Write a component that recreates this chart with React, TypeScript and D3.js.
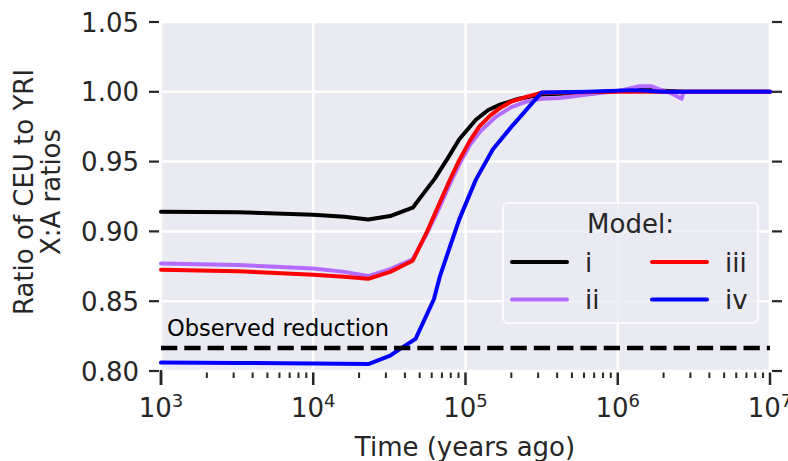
import React from "react";
import * as d3 from "d3";

// time in years ago, ratio of CEU to YRI X:A ratios
const timeI = [1000, 3200, 10000, 16000, 23000, 32000, 45000, 52000, 63000, 76000, 91000, 117000, 141000, 170000, 224000, 316000, 631000, 1000000, 1410000, 2000000, 2700000, 10000000];
const ratioI = [0.914, 0.9137, 0.912, 0.9105, 0.9085, 0.911, 0.917, 0.926, 0.938, 0.952, 0.966, 0.98, 0.987, 0.991, 0.995, 0.998, 0.9995, 1.0005, 1.002, 1.0008, 1.0, 1.0];

const timeII = [1000, 3200, 10000, 16000, 23000, 32000, 45000, 56000, 68000, 79000, 91000, 107000, 126000, 158000, 200000, 251000, 316000, 417000, 631000, 1000000, 1380000, 1660000, 1950000, 2240000, 2630000, 2700000, 10000000];
const ratioII = [0.877, 0.876, 0.8735, 0.871, 0.868, 0.873, 0.88, 0.899, 0.918, 0.934, 0.948, 0.962, 0.972, 0.982, 0.989, 0.993, 0.995, 0.9955, 0.998, 1.0005, 1.004, 1.004, 1.001, 0.999, 0.995, 1.0, 1.0];

const timeIII = [1000, 3200, 10000, 16000, 23000, 32000, 45000, 56000, 68000, 79000, 91000, 107000, 123000, 145000, 170000, 200000, 251000, 316000, 1000000, 10000000];
const ratioIII = [0.8725, 0.8715, 0.869, 0.8675, 0.866, 0.871, 0.879, 0.9, 0.921, 0.937, 0.951, 0.965, 0.975, 0.983, 0.9886, 0.993, 0.9964, 0.9993, 1.0, 1.0];

const timeIV = [1000, 3200, 10000, 23000, 32000, 37000, 47000, 62000, 68000, 79000, 91000, 117000, 151000, 204000, 316000, 631000, 1260000, 2000000, 10000000];
const ratioIV = [0.806, 0.8058, 0.8053, 0.805, 0.811, 0.8157, 0.823, 0.8514, 0.868, 0.889, 0.9086, 0.9371, 0.9586, 0.976, 0.9995, 1.0, 1.0012, 1.0, 1.0];

const modelNames = ["i", "ii", "iii", "iv"];
const modelColors = ["#000000", "#b36cff", "#ff0000", "#0000ff"];

const observedReduction = 0.8165;

const yTicks = [0.8, 0.85, 0.9, 0.95, 1.0, 1.05];
const xMajor = [3, 4, 5, 6, 7];

const W = 788;
const H = 461;
const textColor = "#262626";
const font = "DejaVu Sans, sans-serif";

export default function App() {
  const x = d3.scaleLog().domain([1e3, 1e7]).range([161, 770]);
  const y = d3.scaleLinear().domain([0.8, 1.05]).range([371, 22]);

  const series = [
    { t: timeI, v: ratioI },
    { t: timeII, v: ratioII },
    { t: timeIII, v: ratioIII },
    { t: timeIV, v: ratioIV },
  ];

  const line = d3
    .line<[number, number]>()
    .x((d) => x(d[0]))
    .y((d) => y(d[1]));

  const minor: number[] = [];
  for (let e = 3; e < 7; e++) {
    for (let m = 2; m <= 9; m++) minor.push(m * Math.pow(10, e));
  }

  const [x0, x1] = x.range();
  const [yb, yt] = y.range();

  // legend layout
  const lg = { left: 503, top: 203, right: 758, bottom: 323 };
  const cols = [512, 652];
  const rows = [262, 299.5];

  return (
    <svg
      width={W}
      height={H}
      style={{ position: "absolute", left: 0, top: 0, background: "#fff" }}
      fontFamily={font}
    >
      <rect x={x0} y={yt} width={x1 - x0} height={yb - yt} fill="#eaeaf2" />

      {/* grid */}
      {yTicks.map((t) => (
        <line key={"gy" + t} x1={x0} x2={x1} y1={y(t)} y2={y(t)} stroke="#fff" strokeWidth={2.5} />
      ))}
      {xMajor.map((e) => (
        <line key={"gx" + e} x1={x(Math.pow(10, e))} x2={x(Math.pow(10, e))} y1={yt} y2={yb} stroke="#fff" strokeWidth={2.5} />
      ))}

      {/* y ticks both sides */}
      {yTicks.map((t) => (
        <g key={"yt" + t}>
          <line x1={149} x2={159} y1={y(t)} y2={y(t)} stroke={textColor} strokeWidth={2.2} />
          <line x1={772} x2={782} y1={y(t)} y2={y(t)} stroke={textColor} strokeWidth={2.2} />
          <text x={139} y={y(t) + 9.5} textAnchor="end" fontSize={26} fill={textColor}>
            {t.toFixed(2)}
          </text>
        </g>
      ))}

      {/* x ticks */}
      <line x1={x0} x2={x0} y1={370} y2={385} stroke={textColor} strokeWidth={2.5} />
      {xMajor.map((e) => (
        <g key={"xt" + e}>
          <line x1={x(Math.pow(10, e))} x2={x(Math.pow(10, e))} y1={372.5} y2={385} stroke={textColor} strokeWidth={2.5} />
          <text x={x(Math.pow(10, e))} y={417} textAnchor="middle" fontSize={26} fill={textColor}>
            10
            <tspan dy={-10} fontSize={18}>
              {e}
            </tspan>
          </text>
        </g>
      ))}
      {minor.map((m) => (
        <line key={"mt" + m} x1={x(m)} x2={x(m)} y1={372.5} y2={378} stroke={textColor} strokeWidth={2} />
      ))}

      {/* data */}
      {series.map((s, i) => (
        <path
          key={"s" + i}
          d={line(s.t.map((t, j) => [t, s.v[j]] as [number, number])) || ""}
          fill="none"
          stroke={modelColors[i]}
          strokeWidth={4}
          strokeLinejoin="round"
          strokeLinecap="round"
        />
      ))}

      <line
        x1={x0}
        x2={x1}
        y1={y(observedReduction)}
        y2={y(observedReduction)}
        stroke="#000"
        strokeWidth={4.4}
        strokeDasharray="16.3 7"
      />
      <text x={167} y={336} fontSize={22.5} fill="#000">
        Observed reduction
      </text>

      {/* legend */}
      <rect
        x={lg.left}
        y={lg.top}
        width={lg.right - lg.left}
        height={lg.bottom - lg.top}
        rx={5}
        fill="#eaeaf2"
        fillOpacity={0.8}
        stroke="#fff"
        strokeOpacity={0.8}
        strokeWidth={2}
      />
      <text x={(lg.left + lg.right) / 2} y={233} textAnchor="middle" fontSize={26} fill={textColor}>
        Model:
      </text>
      {modelNames.map((n, i) => {
        const cx = cols[Math.floor(i / 2)];
        const ry = rows[i % 2];
        return (
          <g key={"lg" + n}>
            <line x1={cx} x2={cx + 55} y1={ry} y2={ry} stroke={modelColors[i]} strokeWidth={4} strokeLinecap="round" />
            <text x={cx + 73} y={ry + 9.5} fontSize={26} fill={textColor}>
              {n}
            </text>
          </g>
        );
      })}

      {/* axis labels */}
      <text x={465} y={456} textAnchor="middle" fontSize={26} fill={textColor}>
        Time (years ago)
      </text>
      <text transform="translate(33,192) rotate(-90)" textAnchor="middle" fontSize={26} fill={textColor}>
        Ratio of CEU to YRI
      </text>
      <text transform="translate(60,192) rotate(-90)" textAnchor="middle" fontSize={26} fill={textColor}>
        X:A ratios
      </text>
    </svg>
  );
}
